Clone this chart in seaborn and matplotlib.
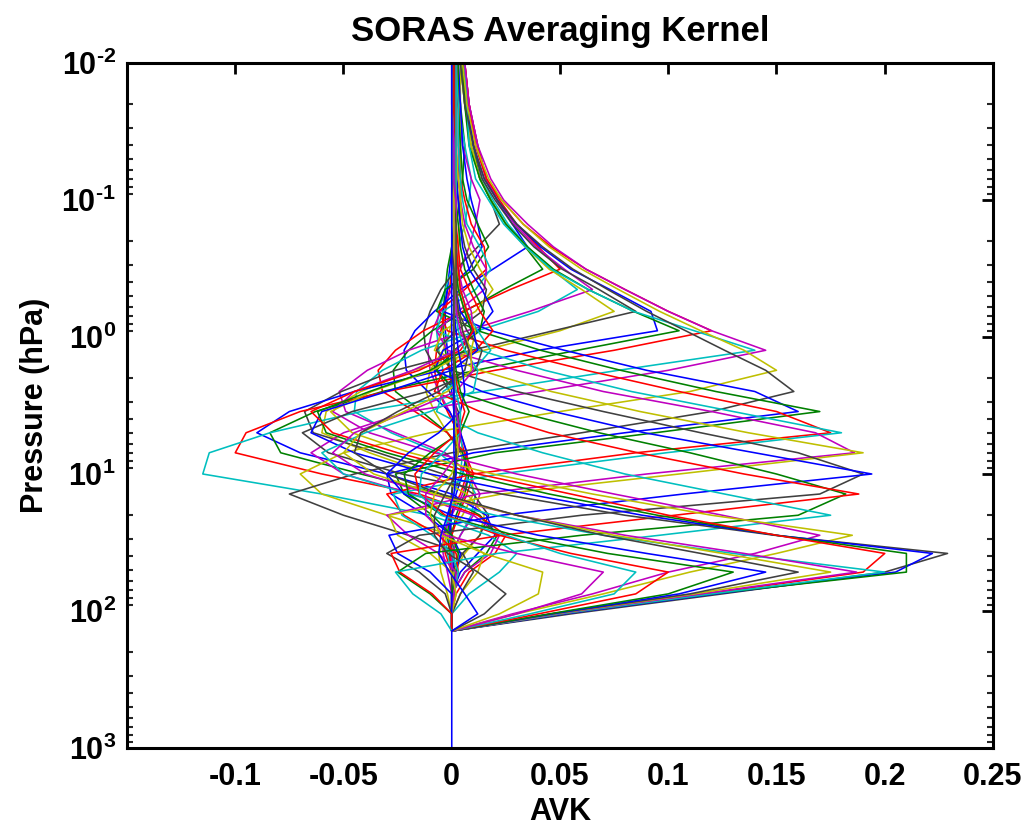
import numpy as np
import pandas as pd
import seaborn as sns
import matplotlib
matplotlib.use("Agg")
import matplotlib.pyplot as plt
from matplotlib.ticker import FixedLocator, FixedFormatter, LogLocator, NullFormatter

# ---------------- data ----------------
pressure_hpa = [0.01, 0.02, 0.04, 0.07, 0.1, 0.15, 0.22, 0.32, 0.45, 0.65, 0.9, 1.25,
                1.75, 2.5, 3.5, 5, 7, 10, 14, 20, 28, 38, 52, 75, 105, 140, 1000]

# kernels peaking at the very top (tiny sensitivity) and near-zero spine rows
avk_top = [
    [0.003, 0.004, 0.004, 0.003, 0.002, 0.001, 0.000, -0.001, -0.002, -0.003, -0.003, -0.002, -0.001, 0.000, 0.001, 0.002, 0.002, 0.001, 0.000, -0.001, -0.001, 0.000, 0.001, 0.000, 0.000, 0, 0],
    [0.002, 0.004, 0.006, 0.005, 0.004, 0.002, 0.000, -0.002, -0.003, -0.004, -0.004, -0.003, -0.001, 0.001, 0.002, 0.003, 0.002, 0.001, 0.000, -0.001, -0.002, -0.001, 0.000, 0.000, 0.000, 0, 0],
    [0.001, 0.001, 0.002, 0.002, 0.002, 0.002, 0.001, 0.000, -0.001, -0.003, -0.005, -0.007, -0.008, -0.006, -0.002, 0.003, 0.006, 0.007, 0.004, -0.001, -0.004, -0.003, 0.000, 0.001, 0.000, 0, 0],
    [0.002, 0.003, 0.006, 0.009, 0.008, 0.006, 0.003, 0.000, -0.003, -0.006, -0.007, -0.006, -0.004, -0.001, 0.002, 0.004, 0.005, 0.004, 0.001, -0.002, -0.003, -0.002, 0.000, 0.001, 0.000, 0, 0],
    [0.002, 0.003, 0.005, 0.009, 0.013, 0.011, 0.008, 0.004, 0.000, -0.005, -0.009, -0.011, -0.010, -0.006, -0.001, 0.004, 0.007, 0.008, 0.005, 0.000, -0.004, -0.004, -0.002, 0.000, 0.000, 0, 0],
    [0.004, 0.004, 0.004, 0.004, 0.004, 0.004, 0.003, 0.003, 0.002, 0.001, -0.001, -0.004, -0.010, -0.012, -0.008, -0.002, 0.004, 0.009, 0.010, 0.005, -0.002, -0.006, -0.005, -0.002, 0.000, 0, 0],
]

# kernels peaking between 0.15 and 1.25 hPa
avk_upper = [
    [0.005, 0.007, 0.010, 0.013, 0.018, 0.022, 0.012, 0.002, -0.005, -0.010, -0.013, -0.012, -0.007, -0.001, 0.003, 0.004, 0.003, 0.001, 0.000, -0.001, 0.000, 0.001, 0.001, 0.000, 0.000, 0, 0],
    [0.006, 0.008, 0.012, 0.016, 0.021, 0.028, 0.035, 0.019, 0.004, -0.008, -0.017, -0.022, -0.021, -0.011, -0.001, 0.004, 0.007, 0.005, 0.002, 0.000, -0.001, 0.000, 0.001, 0.000, 0.000, 0, 0],
    [0.004, 0.006, 0.009, 0.013, 0.018, 0.025, 0.034, 0.042, 0.024, 0.006, -0.009, -0.020, -0.027, -0.026, -0.014, -0.002, 0.005, 0.008, 0.006, 0.002, 0.000, -0.001, 0.000, 0.000, 0.000, 0, 0],
    [0.006, 0.008, 0.012, 0.016, 0.022, 0.030, 0.040, 0.050, 0.027, 0.005, -0.013, -0.026, -0.034, -0.032, -0.017, -0.002, 0.006, 0.010, 0.007, 0.003, 0.000, -0.001, 0.000, 0.000, 0.000, 0, 0],
    [0.005, 0.007, 0.010, 0.014, 0.019, 0.026, 0.035, 0.046, 0.058, 0.040, 0.012, -0.014, -0.032, -0.044, -0.045, -0.028, -0.006, 0.006, 0.011, 0.009, 0.004, 0.000, 0.000, 0.000, 0.000, 0, 0],
    [0.005, 0.008, 0.011, 0.016, 0.021, 0.029, 0.039, 0.052, 0.065, 0.036, 0.007, -0.020, -0.039, -0.052, -0.049, -0.026, -0.003, 0.008, 0.013, 0.010, 0.004, 0.000, 0.000, 0.000, 0.000, 0, 0],
    [0.004, 0.006, 0.009, 0.013, 0.018, 0.025, 0.034, 0.045, 0.060, 0.075, 0.050, 0.015, -0.018, -0.042, -0.058, -0.060, -0.038, -0.010, 0.007, 0.015, 0.013, 0.006, 0.001, 0.000, 0.000, 0, 0],
    [0.005, 0.007, 0.010, 0.014, 0.020, 0.028, 0.038, 0.051, 0.068, 0.085, 0.047, 0.009, -0.026, -0.051, -0.068, -0.064, -0.034, -0.004, 0.010, 0.017, 0.013, 0.005, 0.000, 0.000, 0.000, 0, 0],
    [0.005, 0.007, 0.010, 0.015, 0.021, 0.030, 0.041, 0.055, 0.073, 0.092, 0.095, 0.040, -0.005, -0.045, -0.075, -0.090, -0.070, -0.030, 0.000, 0.016, 0.020, 0.012, 0.004, 0.000, 0.000, 0, 0],
    [0.005, 0.006, 0.008, 0.013, 0.018, 0.025, 0.035, 0.047, 0.063, 0.084, 0.105, 0.058, 0.011, -0.032, -0.063, -0.084, -0.079, -0.042, -0.005, 0.013, 0.021, 0.016, 0.006, 0.000, 0.000, 0, 0],
    [0.006, 0.008, 0.011, 0.016, 0.023, 0.033, 0.046, 0.062, 0.080, 0.100, 0.120, 0.075, 0.020, -0.030, -0.070, -0.095, -0.100, -0.060, -0.015, 0.012, 0.025, 0.020, 0.008, 0.002, 0.000, 0, 0],
    [0.006, 0.007, 0.008, 0.011, 0.017, 0.024, 0.034, 0.046, 0.063, 0.084, 0.112, 0.140, 0.077, 0.014, -0.042, -0.084, -0.112, -0.115, -0.060, -0.010, 0.017, 0.030, 0.022, 0.008, 0.000, 0, 0],
]

# kernels peaking between 1.25 and 20 hPa
avk_middle = [
    [0.006, 0.008, 0.012, 0.018, 0.024, 0.035, 0.047, 0.062, 0.080, 0.100, 0.120, 0.145, 0.100, 0.040, -0.020, -0.050, -0.065, -0.050, -0.018, 0.010, 0.022, 0.018, 0.006, 0.000, 0.000, 0, 0],
    [0.005, 0.007, 0.011, 0.017, 0.023, 0.033, 0.045, 0.060, 0.077, 0.096, 0.115, 0.135, 0.150, 0.110, 0.050, -0.010, -0.050, -0.070, -0.060, -0.030, 0.000, 0.015, 0.012, 0.004, 0.000, 0, 0],
    [0.004, 0.006, 0.010, 0.015, 0.021, 0.030, 0.042, 0.056, 0.072, 0.090, 0.108, 0.126, 0.145, 0.158, 0.120, 0.060, 0.000, -0.045, -0.075, -0.050, -0.020, 0.005, 0.010, 0.004, 0.000, 0, 0],
    [0.003, 0.004, 0.005, 0.007, 0.009, 0.012, 0.014, 0.008, -0.002, -0.004, 0.018, 0.052, 0.090, 0.140, 0.160, 0.080, 0.010, -0.030, -0.028, -0.012, 0.000, 0.004, 0.002, 0.000, 0.000, 0, 0],
    [0.003, 0.003, 0.004, 0.005, 0.007, 0.012, 0.017, 0.010, -0.003, -0.007, 0.012, 0.041, 0.078, 0.122, 0.170, 0.094, 0.020, -0.026, -0.022, -0.009, 0.000, 0.003, 0.002, 0.000, 0.000, 0, 0],
    [0.002, 0.003, 0.003, 0.004, 0.006, 0.009, 0.015, 0.016, 0.006, -0.006, -0.002, 0.025, 0.062, 0.105, 0.150, 0.175, 0.085, 0.010, -0.030, -0.022, -0.006, 0.002, 0.003, 0.001, 0.000, 0, 0],
    [0.002, 0.003, 0.003, 0.004, 0.005, 0.007, 0.013, 0.018, 0.011, -0.004, -0.007, 0.013, 0.043, 0.083, 0.130, 0.180, 0.099, 0.022, -0.027, -0.023, -0.009, 0.000, 0.003, 0.001, 0.000, 0, 0],
    [0.002, 0.002, 0.002, 0.003, 0.004, 0.006, 0.010, 0.016, 0.015, 0.003, -0.007, -0.002, 0.030, 0.070, 0.120, 0.168, 0.186, 0.090, 0.012, -0.030, -0.020, -0.006, 0.002, 0.001, 0.000, 0, 0],
    [0.002, 0.002, 0.002, 0.003, 0.004, 0.005, 0.008, 0.013, 0.019, 0.011, -0.004, -0.008, 0.013, 0.046, 0.087, 0.137, 0.190, 0.105, 0.023, -0.029, -0.025, -0.010, 0.000, 0.002, 0.000, 0, 0],
    [0.001, 0.001, 0.002, 0.002, 0.003, 0.004, 0.006, 0.010, 0.016, 0.014, 0.002, -0.007, 0.000, 0.030, 0.070, 0.115, 0.160, 0.190, 0.170, 0.060, -0.015, -0.030, -0.015, -0.003, 0.000, 0, 0],
    [0.001, 0.002, 0.002, 0.002, 0.003, 0.004, 0.005, 0.008, 0.014, 0.019, 0.012, -0.004, -0.008, 0.014, 0.047, 0.089, 0.140, 0.194, 0.107, 0.023, -0.029, -0.025, -0.010, 0.000, 0.000, 0, 0],
    [0.001, 0.001, 0.001, 0.001, 0.002, 0.003, 0.004, 0.006, 0.010, 0.015, 0.013, 0.001, -0.007, 0.002, 0.030, 0.068, 0.110, 0.150, 0.182, 0.160, 0.060, -0.012, -0.025, -0.010, 0.000, 0, 0],
    [0.001, 0.001, 0.001, 0.002, 0.002, 0.002, 0.003, 0.004, 0.008, 0.013, 0.019, 0.011, -0.004, -0.008, 0.013, 0.045, 0.086, 0.135, 0.188, 0.103, 0.023, -0.028, -0.024, -0.009, 0.000, 0, 0],
    [0.001, 0.001, 0.001, 0.001, 0.002, 0.002, 0.002, 0.003, 0.004, 0.007, 0.012, 0.018, 0.010, -0.004, -0.007, 0.012, 0.042, 0.080, 0.126, 0.175, 0.096, 0.021, -0.026, -0.018, -0.005, 0, 0],
]

# large kernels peaking between 28 and 52 hPa
avk_lower = [
    [0.001, 0.001, 0.001, 0.002, 0.002, 0.002, 0.002, 0.003, 0.005, 0.009, 0.010, 0.002, -0.018, -0.045, -0.055, -0.038, -0.008, 0.030, 0.075, 0.125, 0.170, 0.140, 0.100, 0.065, 0.028, 0, 0],
    [0.002, 0.002, 0.002, 0.002, 0.002, 0.002, 0.002, 0.002, 0.003, 0.006, 0.011, 0.009, -0.009, -0.037, -0.056, -0.046, -0.019, 0.019, 0.065, 0.120, 0.185, 0.150, 0.110, 0.070, 0.030, 0, 0],
    [0.002, 0.002, 0.002, 0.002, 0.002, 0.002, 0.002, 0.002, 0.002, 0.003, 0.007, 0.014, 0.011, -0.011, -0.046, -0.069, -0.057, -0.023, 0.023, 0.080, 0.149, 0.229, 0.200, 0.125, 0.055, 0, 0],
    [0.002, 0.002, 0.002, 0.002, 0.002, 0.002, 0.002, 0.002, 0.002, 0.004, 0.010, 0.012, 0.000, -0.030, -0.060, -0.065, -0.045, -0.010, 0.035, 0.088, 0.150, 0.222, 0.205, 0.122, 0.052, 0, 0],
    [0.001, 0.001, 0.001, 0.002, 0.002, 0.002, 0.002, 0.002, 0.003, 0.006, 0.009, 0.006, -0.010, -0.038, -0.062, -0.058, -0.030, 0.005, 0.045, 0.095, 0.150, 0.210, 0.210, 0.120, 0.050, 0, 0],
    [0.002, 0.002, 0.002, 0.002, 0.002, 0.002, 0.002, 0.003, 0.004, 0.007, 0.010, 0.004, -0.015, -0.045, -0.065, -0.055, -0.025, 0.012, 0.055, 0.100, 0.150, 0.200, 0.190, 0.118, 0.050, 0, 0],
    [0.002, 0.002, 0.002, 0.002, 0.002, 0.002, 0.002, 0.002, 0.002, 0.002, 0.003, 0.006, 0.012, 0.010, -0.010, -0.040, -0.060, -0.050, -0.020, 0.020, 0.070, 0.130, 0.200, 0.120, 0.050, 0, 0],
    [0.001, 0.001, 0.001, 0.001, 0.002, 0.002, 0.002, 0.002, 0.002, 0.002, 0.004, 0.008, 0.010, 0.002, -0.020, -0.045, -0.055, -0.040, -0.010, 0.030, 0.080, 0.135, 0.187, 0.115, 0.048, 0, 0],
    [0.001, 0.001, 0.001, 0.001, 0.001, 0.002, 0.002, 0.002, 0.002, 0.003, 0.005, 0.009, 0.009, -0.002, -0.022, -0.042, -0.050, -0.036, -0.008, 0.030, 0.075, 0.125, 0.175, 0.112, 0.047, 0, 0],
    [0.001, 0.001, 0.001, 0.001, 0.001, 0.002, 0.002, 0.002, 0.002, 0.003, 0.005, 0.008, 0.006, -0.006, -0.025, -0.042, -0.045, -0.030, -0.005, 0.030, 0.070, 0.115, 0.160, 0.110, 0.046, 0, 0],
]

# small kernels of the lowest levels
avk_bottom = [
    [0.001, 0.001, 0.001, 0.001, 0.001, 0.001, 0.001, 0.001, 0.001, 0.001, 0.002, 0.003, 0.005, 0.006, 0.004, -0.006, -0.020, -0.030, -0.022, 0.000, 0.040, 0.090, 0.145, 0.105, 0.046, 0, 0],
    [0.001, 0.001, 0.001, 0.001, 0.001, 0.001, 0.001, 0.001, 0.001, 0.001, 0.001, 0.001, 0.002, 0.004, 0.008, 0.004, -0.010, -0.022, -0.020, -0.004, 0.029, 0.072, 0.130, 0.100, 0.045, 0, 0],
    [0.001, 0.001, 0.001, 0.001, 0.001, 0.001, 0.001, 0.001, 0.001, 0.001, 0.001, 0.001, 0.001, 0.003, 0.006, 0.003, -0.008, -0.017, -0.015, -0.003, 0.022, 0.055, 0.100, 0.085, 0.040, 0, 0],
    [0.000, 0.000, 0.001, 0.001, 0.001, 0.001, 0.001, 0.001, 0.001, 0.001, 0.001, 0.001, 0.001, 0.002, 0.004, 0.004, -0.004, -0.014, -0.015, -0.005, 0.025, 0.050, 0.085, 0.075, 0.036, 0, 0],
    [0.000, 0.000, 0.001, 0.001, 0.001, 0.001, 0.001, 0.001, 0.001, 0.001, 0.001, 0.001, 0.001, 0.001, 0.002, 0.004, 0.003, -0.004, -0.012, -0.012, -0.003, 0.030, 0.070, 0.060, 0.030, 0, 0],
    [0.000, 0.000, 0.000, 0.000, 0.001, 0.001, 0.001, 0.001, 0.001, 0.001, 0.001, 0.001, 0.001, 0.001, 0.001, 0.002, 0.003, 0.000, -0.008, -0.010, -0.005, 0.015, 0.042, 0.040, 0.022, 0, 0],
    [0.000, 0.000, 0.000, 0.000, 0.000, 0.000, 0.000, 0.001, 0.001, 0.001, 0.001, 0.001, 0.001, 0.001, 0.001, 0.001, 0.002, 0.002, -0.003, -0.008, -0.008, -0.002, 0.012, 0.025, 0.015, 0, 0],
    [0.000, 0.000, 0.000, 0.000, 0.000, 0.000, 0.000, 0.000, 0.000, 0.000, 0.000, 0.000, 0.000, 0.001, 0.001, 0.001, 0.001, 0.002, 0.001, -0.002, -0.005, -0.006, -0.001, 0.006, 0.012, 0, 0],
]

x_ticks = [-0.1, -0.05, 0, 0.05, 0.1, 0.15, 0.2, 0.25]
x_tick_labels = ["-0.1", "-0.05", "0", "0.05", "0.1", "0.15", "0.2", "0.25"]
y_ticks = [1e-2, 1e-1, 1e0, 1e1, 1e2, 1e3]
y_tick_labels = [r"$\mathbf{10^{\text{-}2}}$", r"$\mathbf{10^{\text{-}1}}$", r"$\mathbf{10^{0}}$",
                 r"$\mathbf{10^{1}}$", r"$\mathbf{10^{2}}$", r"$\mathbf{10^{3}}$"]
matlab_colors = ["#0000FF", "#008000", "#FF0000", "#00BFBF", "#BF00BF", "#BFBF00", "#404040"]

# ---------------- tidy table ----------------
all_rows = avk_top + avk_upper + avk_middle + avk_lower + avk_bottom
n_rows = len(all_rows)
records = []
for i, row in enumerate(all_rows):
    name = f"row{i:02d}"
    for p, v in zip(pressure_hpa, row):
        # the shared zero segment down to the surface is drawn once, by the last row
        if p > 140 and i != n_rows - 1:
            continue
        records.append({"line": name, "pressure": p, "avk": v})
df = pd.DataFrame(records)
order = [f"row{i:02d}" for i in range(n_rows)]
palette = [matlab_colors[i % len(matlab_colors)] for i in range(n_rows)]

# ---------------- figure ----------------
sns.set_theme(style="white")
plt.rcParams["font.family"] = ["Liberation Sans", "DejaVu Sans"]
plt.rcParams["font.weight"] = "bold"
plt.rcParams["text.color"] = "black"
plt.rcParams["axes.labelcolor"] = "black"
plt.rcParams["mathtext.fontset"] = "custom"
plt.rcParams["mathtext.rm"] = "Liberation Sans:bold"
plt.rcParams["mathtext.bf"] = "Liberation Sans:bold"

fig = plt.figure(figsize=(10.29, 8.27), dpi=100)
ax = fig.add_axes([127 / 1029, 1 - 748 / 827, (993 - 127) / 1029, (748 - 63) / 827])

sns.lineplot(data=df, x="avk", y="pressure", hue="line", hue_order=order,
             palette=palette, sort=False, estimator=None, orient="y",
             legend=False, linewidth=1.15, ax=ax)

ax.set_yscale("log")
ax.set_ylim(1e3, 1e-2)
ax.set_xlim(-0.15, 0.25)

ax.xaxis.set_major_locator(FixedLocator(x_ticks))
ax.xaxis.set_major_formatter(FixedFormatter(x_tick_labels))
ax.yaxis.set_major_locator(FixedLocator(y_ticks))
ax.yaxis.set_major_formatter(FixedFormatter(y_tick_labels))
ax.yaxis.set_minor_locator(LogLocator(base=10, subs=np.arange(2, 10), numticks=20))
ax.yaxis.set_minor_formatter(NullFormatter())

ax.tick_params(axis="both", which="major", direction="in", length=8, width=2,
               top=True, right=True, labelsize=22, colors="black")
ax.tick_params(axis="x", which="major", pad=10)
ax.tick_params(axis="y", which="major", pad=8)
ax.tick_params(axis="y", which="minor", direction="in", length=4, width=1.5,
               left=True, right=True)
for lab in ax.get_xticklabels() + ax.get_yticklabels():
    lab.set_fontweight("bold")

for s in ax.spines.values():
    s.set_visible(True)
    s.set_color("black")
    s.set_linewidth(2.2)

ax.set_xlabel("AVK", fontsize=22, fontweight="bold", labelpad=4, color="black")
ax.set_ylabel("Pressure (hPa)", fontsize=22, fontweight="bold", labelpad=8, color="black")
ax.set_title("SORAS Averaging Kernel", fontsize=25, fontweight="bold", pad=16, color="black")
ax.grid(False)

fig.savefig("out.png", dpi=100, facecolor="white")
